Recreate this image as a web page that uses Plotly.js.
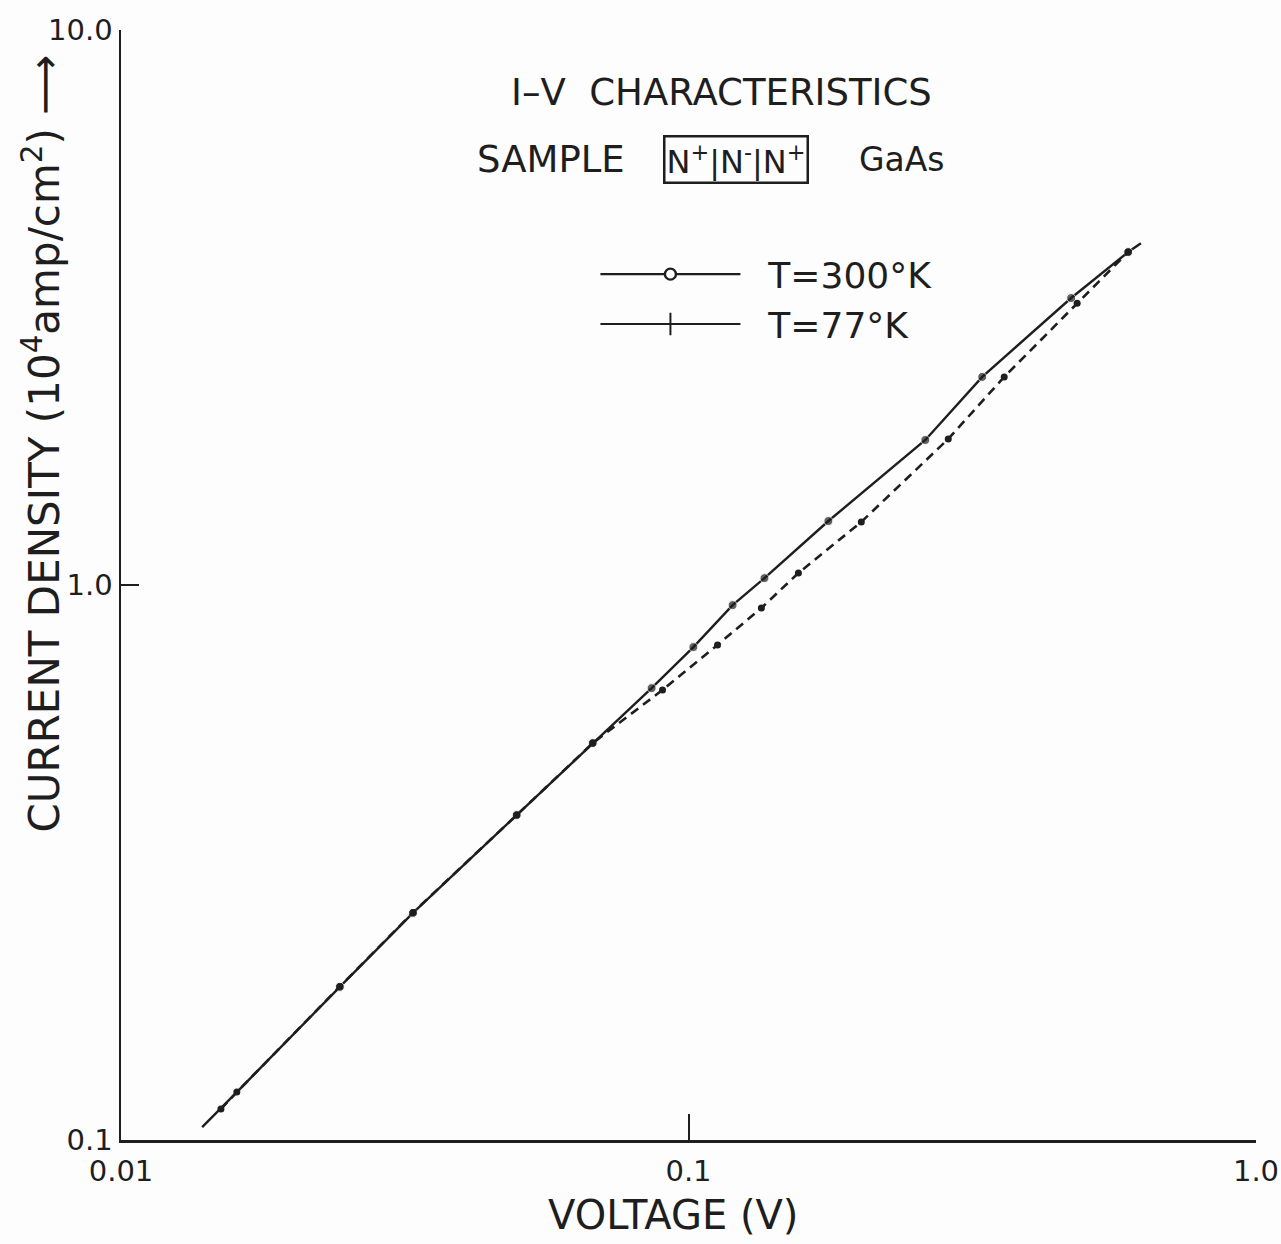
<!DOCTYPE html>
<html>
<head>
<meta charset="utf-8">
<script src="https://cdn.plot.ly/plotly-3.0.1.min.js"></script>
<style>html,body{margin:0;padding:0;background:#fdfdfd;}</style>
</head>
<body>
<div id="chart" style="width:1281px;height:1244px;"></div>
<script>
// T = 300 K (solid line, upper)
const v300 = [0.0139, 0.0160, 0.0243, 0.0327, 0.0498, 0.0678, 0.0861, 0.1020, 0.1196, 0.1361, 0.1764, 0.2614, 0.3293, 0.4724, 0.5953, 0.627];
const j300 = [0.1055, 0.122, 0.1887, 0.2565, 0.385, 0.519, 0.652, 0.773, 0.920, 1.029, 1.304, 1.825, 2.371, 3.289, 3.98, 4.13];
const m300 = [false, false, true, true, true, true, true, true, true, true, true, true, true, true, true, false];
// T = 77 K (dashed line, lower)
const v77 = [0.0150, 0.0160, 0.0243, 0.0327, 0.0498, 0.0678, 0.0900, 0.1125, 0.1344, 0.1562, 0.2016, 0.2869, 0.3600, 0.4840, 0.5953];
const j77 = [0.1137, 0.122, 0.189, 0.257, 0.385, 0.519, 0.647, 0.780, 0.909, 1.051, 1.299, 1.833, 2.371, 3.22, 3.98];

const xTickVals = [0.01, 0.1, 1.0];
const xTickText = ["0.01", "0.1", "1.0"];
const yTickVals = [0.1, 1.0, 10.0];
const yTickText = ["0.1", "1.0", "10.0"];

const seriesNames = ["T=300°K", "T=77°K"];

const ink = "#1e1e1e";
const bg = "#fdfdfd";
const font = "DejaVu Sans, Noto Sans, sans-serif";

const traces = [
  {
    x: v300, y: j300, type: "scatter", mode: "lines+markers",
    line: {color: ink, width: 2.4, dash: "solid"},
    marker: {color: ink, size: m300.map(b => b ? 9 : 0)},
    showlegend: false, hoverinfo: "skip"
  },
  {
    x: v77, y: j77, type: "scatter", mode: "lines+markers",
    line: {color: ink, width: 2.6, dash: "9px,6px"},
    marker: {color: ink, size: 7},
    showlegend: false, hoverinfo: "skip"
  },
  {
    x: [null], y: [null], type: "scatter", mode: "lines+markers", name: "\u00a0\u00a0" + seriesNames[0],
    line: {color: ink, width: 2.4},
    marker: {color: bg, size: 11, symbol: "circle", line: {color: ink, width: 2.4}}
  },
  {
    x: [null], y: [null], type: "scatter", mode: "lines+markers", name: "\u00a0\u00a0" + seriesNames[1],
    line: {color: ink, width: 2},
    marker: {color: ink, size: 16, symbol: "line-ns-open", line: {color: ink, width: 2}}
  }
];

const layout = {
  width: 1281, height: 1244,
  margin: {l: 121, r: 25, t: 30, b: 104},
  paper_bgcolor: bg, plot_bgcolor: bg,
  font: {family: font, color: ink, size: 28},
  showlegend: true,
  legend: {
    x: 0.418, y: 0.807, xanchor: "left", yanchor: "top",
    bgcolor: "rgba(0,0,0,0)", itemwidth: 140,
    font: {family: font, size: 36, color: ink},
    tracegroupgap: 0
  },
  xaxis: {
    type: "log", range: [-2, 0],
    tickvals: xTickVals, ticktext: xTickText,
    ticks: "inside", ticklen: 26, tickwidth: 2, tickcolor: ink,
    ticklabelstandoff: 4,
    showline: true, linecolor: ink, linewidth: 2.5,
    showgrid: false, zeroline: false, mirror: false,
    tickfont: {family: font, size: 29, color: ink}
  },
  yaxis: {
    type: "log", range: [-1, 1],
    tickvals: yTickVals, ticktext: yTickText,
    ticks: "inside", ticklen: 18, tickwidth: 2, tickcolor: ink,
    showline: true, linecolor: ink, linewidth: 2.5,
    showgrid: false, zeroline: false, mirror: false,
    tickfont: {family: font, size: 29, color: ink}
  },
  annotations: [
    {text: "CURRENT DENSITY (10<sup>4</sup>amp/cm<sup>2</sup>) ⟶", xref: "paper", yref: "paper",
     x: -0.07, y: 0.627, xanchor: "center", yanchor: "middle", textangle: -90, showarrow: false,
     font: {family: font, size: 42, color: ink}},
    {text: "VOLTAGE (V)", xref: "paper", yref: "paper",
     x: 0.486, y: -0.0675, xanchor: "center", yanchor: "middle", showarrow: false,
     font: {family: font, size: 40, color: ink}},
    {text: "I–V  CHARACTERISTICS", xref: "paper", yref: "paper",
     x: 0.529, y: 0.944, xanchor: "center", yanchor: "middle", showarrow: false,
     font: {family: font, size: 37, color: ink}},
    {text: "SAMPLE", xref: "paper", yref: "paper",
     x: 0.379, y: 0.883, xanchor: "center", yanchor: "middle", showarrow: false,
     font: {family: font, size: 37, color: ink}},
    {text: "N<sup>+</sup>|N<sup>-</sup>|N<sup>+</sup>", xref: "paper", yref: "paper",
     x: 0.542, y: 0.883, xanchor: "center", yanchor: "middle", showarrow: false,
     bordercolor: ink, borderwidth: 2.5, borderpad: 1,
     font: {family: font, size: 32, color: ink}},
    {text: "GaAs", xref: "paper", yref: "paper",
     x: 0.688, y: 0.883, xanchor: "center", yanchor: "middle", showarrow: false,
     font: {family: font, size: 33, color: ink}}
  ]
};

Plotly.newPlot("chart", traces, layout, {staticPlot: true, displayModeBar: false});
</script>
</body>
</html>
